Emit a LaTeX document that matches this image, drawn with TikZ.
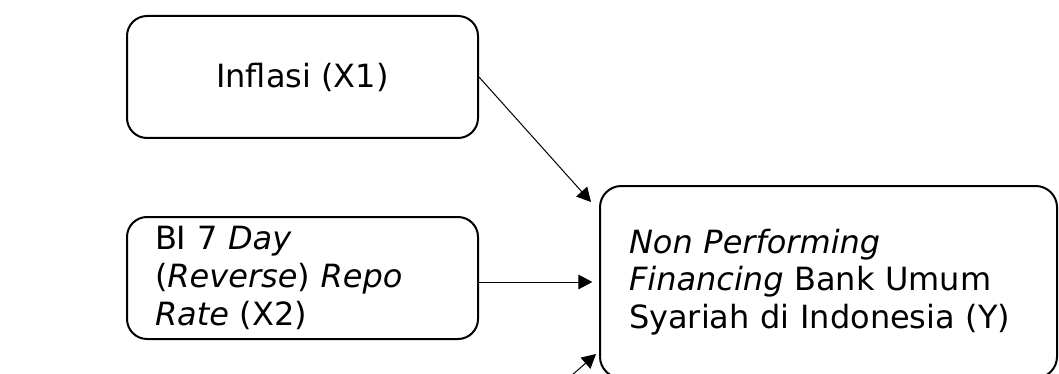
\documentclass[tikz,border=0pt]{standalone}
\usepackage{fontspec}
\setmainfont{DejaVu Sans}
\usetikzlibrary{arrows.meta,calc}
\begin{document}
\begin{tikzpicture}[x=0.75pt,y=-0.75pt,
    var/.style={draw,line width=1.5pt,rounded corners=15pt,inner sep=0pt,
      font=\fontsize{24}{28.2}\selectfont},
    link/.style={-{Triangle[length=10.5pt,width=11pt]},line width=0.75pt}]
  \useasboundingbox (0,0) rectangle (1059,374);
  \clip (0,0) rectangle (1059,374);
  \node[var,minimum width=263.25pt,minimum height=91.5pt] (x1) at (302.5,77) {Inflasi (X1)};
  \node[var,minimum height=91.5pt,text width=221.25pt,inner xsep=21pt,align=left] (x2) at (302.5,278)
    {BI 7 \textit{Day}\\(\textit{Reverse}) \textit{Repo}\\\textit{Rate} (X2)};
  \node[var,rounded corners=16pt,minimum height=144pt,text width=299.25pt,inner xsep=21.75pt,align=left] (y) at (828.5,282)
    {\textit{Non Performing}\\\textit{Financing} Bank Umum\\Syariah di Indonesia (Y)};
  \coordinate (x3) at (478,458);
  \coordinate (y1) at ($(y.north west)+(-8,17)$);
  \coordinate (y3) at ($(y.south west)+(-3,-25)$);
  \draw[link] (x1.east) -- (y1);
  \draw[link,shorten >=5pt] (x2.east |- y.west) -- (y.west);
  \draw[link] (x3) -- (y3);
\end{tikzpicture}
\end{document}
